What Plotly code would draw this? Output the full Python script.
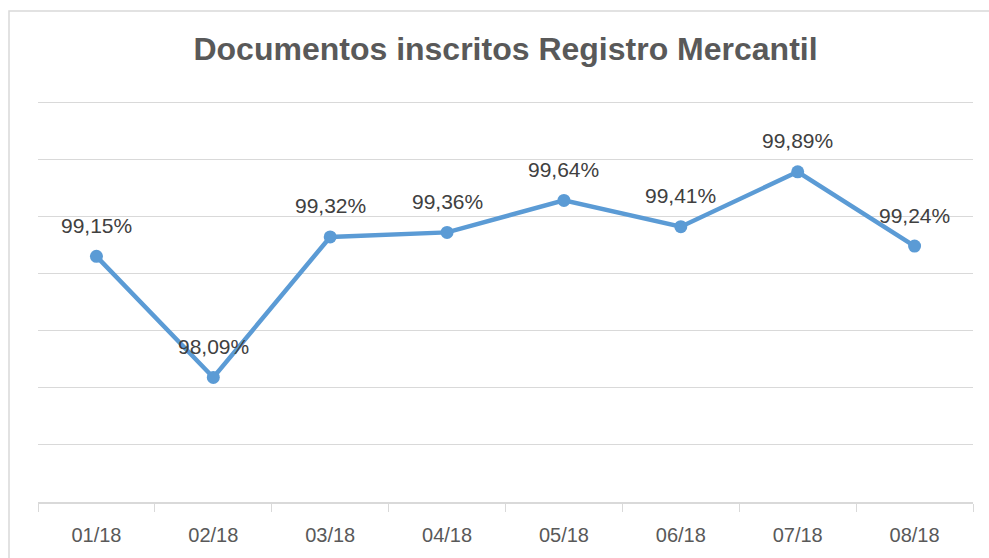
import plotly.graph_objects as go

months = ["01/18", "02/18", "03/18", "04/18", "05/18", "06/18", "07/18", "08/18"]
values = [99.15, 98.09, 99.32, 99.36, 99.64, 99.41, 99.89, 99.24]
labels = [f"{v:.2f}%".replace(".", ",") for v in values]

W, H = 989, 558
L, R, T, B = 38, 16, 101, 56
pw, ph = W - L - R, H - T - B

def px_x(px):
    return (px - L) / pw

def px_y(py):
    return (H - B - py) / ph

fig = go.Figure()
fig.add_trace(go.Scatter(
    x=months, y=values, mode="lines+markers",
    line=dict(color="#5b9bd5", width=4.5),
    marker=dict(color="#5b9bd5", size=13),
    cliponaxis=False, hoverinfo="skip",
))

annotations = [
    dict(x=m, y=v, xref="x", yref="y", text=t, showarrow=False,
         yshift=31, xanchor="center", yanchor="middle",
         font=dict(family="Liberation Sans", size=21, color="#404040"))
    for m, v, t in zip(months, values, labels)
]

fig.update_layout(
    width=W, height=H,
    margin=dict(l=L, r=R, t=T, b=B),
    paper_bgcolor="white", plot_bgcolor="white",
    showlegend=False,
    annotations=annotations,
    title=dict(text="<b>Documentos inscritos Registro Mercantil</b>",
               x=px_x(505.5), xref="paper", xanchor="center",
               y=1 - 49 / H, yref="container", yanchor="middle",
               font=dict(family="Liberation Sans", size=32, color="#595959")),
    xaxis=dict(type="category", tickson="boundaries", ticks="outside",
               ticklen=8, tickcolor="#d9d9d9", tickwidth=1,
               showline=True, linecolor="#d9d9d9", linewidth=1.5,
               showgrid=False, zeroline=False, ticklabelstandoff=14,
               tickfont=dict(family="Liberation Sans", size=20, color="#595959"),
               range=[-0.5, 7.5]),
    yaxis=dict(range=[97.0, 100.51], dtick=0.5, tick0=97.0,
               showgrid=True, gridcolor="#d9d9d9", gridwidth=1.3,
               showticklabels=False, zeroline=False, showline=False),
    shapes=[dict(type="rect", xref="paper", yref="paper",
                 x0=px_x(9), x1=px_x(1000), y0=px_y(570), y1=px_y(11),
                 line=dict(color="#d9d9d9", width=1.5), fillcolor="rgba(0,0,0,0)",
                 layer="below")],
)

fig.write_html("out.html", config={"displayModeBar": False},
               post_script="document.body.style.margin='0';")
